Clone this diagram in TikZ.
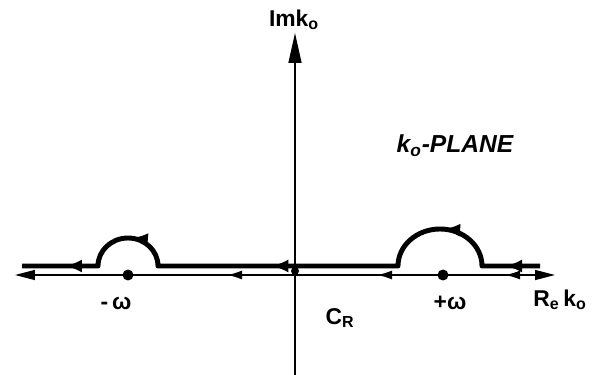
\documentclass[tikz,border=0pt]{standalone}
\usepackage{fontspec}
\setmainfont{Liberation Sans}
\usetikzlibrary{arrows.meta,decorations.markings}
\newcommand{\ko}{k\textsubscript{o}}

\tikzset{
  axisline/.style={line width=0.8pt},
  contour/.style={line width=2.8pt,line join=round},
  pole/.style={circle,fill,inner sep=0pt,minimum size=2.2mm},
  lbl/.style={font=\bfseries\fontsize{13}{15}\selectfont,inner sep=1pt},
}

\begin{document}
\begin{tikzpicture}[x=0.02cm,y=-0.02cm,>={Latex[length=3mm,width=1.8mm]}]
  \useasboundingbox (0,0) rectangle (599,375);
  \coordinate (xr) at (555,275);
  \coordinate (xl) at (15,275);
  \coordinate (yb) at (295,375);
  \coordinate (yt) at (295,33);
  \coordinate (cin) at (540,266);
  \coordinate (cout) at (22,266);

  % axes
  \draw[axisline,{Triangle[length=4mm,width=2mm]}-{Triangle[length=4mm,width=2mm]},
    postaction={decorate},decoration={markings,
      mark=at position 1.0cm with {\arrow{>}},
      mark=at position 3.56cm with {\arrow{>}},
      mark=at position 6.56cm with {\arrow{>}}}] (xr) -- (xl);
  \draw[axisline,-{Triangle[length=6mm,width=2.6mm]}] (yb) -- (yt);

  % indented contour above the real axis
  \draw[contour,postaction={decorate},decoration={markings,
      mark=at position 0.7cm with {\arrow{Latex[length=3.4mm,width=2.6mm]}},
      mark=at position 2.34cm with {\arrow{Latex[length=3.4mm,width=2.6mm]}},
      mark=at position 6.18cm with {\arrow{Latex[length=3.4mm,width=2.6mm]}},
      mark=at position 9.3cm with {\arrow{Latex[length=3.4mm,width=2.6mm]}},
      mark=at position 10.93cm with {\arrow{Latex[length=3.4mm,width=2.6mm]}}}]
    (cin) -- (482,266)
    arc[start angle=0,end angle=-180,x radius=42,y radius=37] -- (158,266)
    arc[start angle=0,end angle=-180,x radius=30,y radius=28] -- (cout);

  % poles
  \node[pole] (mw) at (128,275) {};
  \node[pole] (pw) at (443,275) {};
  \node[pole,minimum size=1.6mm] (org) at (295,271) {};

  % labels
  \node[lbl] (imlbl) at (294,20) {Im\ko};
  \node[lbl,font=\bfseries\itshape\fontsize{14}{16}\selectfont] (plane) at (455,146) {\ko-PLANE};
  \node[lbl] (mwlbl) at (116,303) {-\,ω};
  \node[lbl] (pwlbl) at (450,303) {+ω};
  \node[lbl] (cr) at (340,318) {C\textsubscript{R}};
  \node[lbl] (relbl) at (560,300) {R\textsubscript{e}\,\ko};
\end{tikzpicture}
\end{document}
